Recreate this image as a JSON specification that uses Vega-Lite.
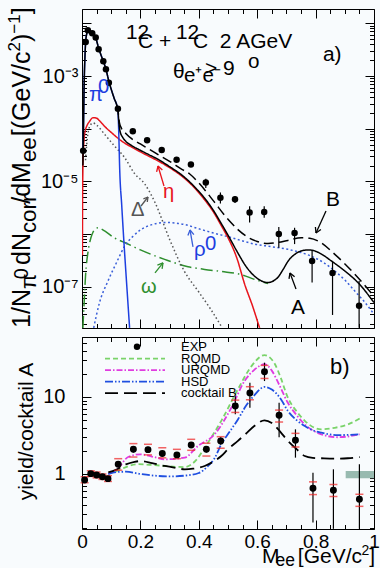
{
"$schema": "https://vega.github.io/schema/vega-lite/v6.json",
"background": "#f8fbfd",
"padding": {"left": 5, "top": 6, "right": 0, "bottom": 0},
"spacing": 9,
"bounds": "flush",
"resolve": {"scale": {"color": "independent", "size": "independent", "strokeDash": "independent"}},
"config": {
  "view": {"stroke": "#000", "strokeWidth": 1},
  "axis": {"domain": false, "grid": false, "tickColor": "#000", "tickWidth": 1, "labelColor": "#000", "labelFont": "Liberation Sans", "titleFont": "Liberation Sans", "titleColor": "#000", "titleFontWeight": "normal", "labelOverlap": false, "labelFlush": false},
  "text": {"font": "Liberation Sans"}
},
"datasets": {
  "topcurves": [
    {"c":"w","x":0.003,"y":1.66e-8},{"c":"w","x":0.007,"y":4.677e-8},{"c":"w","x":0.012,"y":1.585e-7},{"c":"w","x":0.021,"y":4.786e-7},{"c":"w","x":0.03,"y":8.318e-7},{"c":"w","x":0.038,"y":1.096e-6},{"c":"w","x":0.046,"y":1.259e-6},{"c":"w","x":0.055,"y":1.318e-6},{"c":"w","x":0.065,"y":1.259e-6},{"c":"w","x":0.08,"y":1.122e-6},{"c":"w","x":0.11,"y":8.511e-7},{"c":"w","x":0.146,"y":6.918e-7},{"c":"w","x":0.2,"y":5.012e-7},{"c":"w","x":0.283,"y":3.311e-7},{"c":"w","x":0.363,"y":2.399e-7},{"c":"w","x":0.42,"y":2.138e-7},{"c":"w","x":0.477,"y":1.95e-7},{"c":"w","x":0.546,"y":1.698e-7},{"c":"w","x":0.591,"y":1.38e-7},{"c":"w","x":0.637,"y":1.148e-7},
    {"c":"d","x":0.012,"y":2.512e-5},{"c":"d","x":0.02,"y":7.943e-5},{"c":"d","x":0.03,"y":1.202e-4},{"c":"d","x":0.038,"y":1.288e-4},{"c":"d","x":0.05,"y":1.175e-4},{"c":"d","x":0.078,"y":7.762e-5},{"c":"d","x":0.11,"y":4.786e-5},{"c":"d","x":0.146,"y":2.818e-5},{"c":"d","x":0.18,"y":1.413e-5},{"c":"d","x":0.215,"y":8.913e-6},{"c":"d","x":0.25,"y":3.981e-6},{"c":"d","x":0.3,"y":7.943e-7},{"c":"d","x":0.35,"y":1.995e-7},{"c":"d","x":0.4,"y":7.943e-8},{"c":"d","x":0.44,"y":3.802e-8},{"c":"d","x":0.48,"y":1.66e-8},
    {"c":"r","x":0.04,"y":1.66e-8},{"c":"r","x":0.06,"y":5.012e-8},{"c":"r","x":0.089,"y":1.288e-7},{"c":"r","x":0.12,"y":3.02e-7},{"c":"r","x":0.146,"y":5.888e-7},{"c":"r","x":0.175,"y":9.12e-7},{"c":"r","x":0.203,"y":1.23e-6},{"c":"r","x":0.24,"y":1.514e-6},{"c":"r","x":0.283,"y":1.66e-6},{"c":"r","x":0.32,"y":1.622e-6},{"c":"r","x":0.352,"y":1.514e-6},{"c":"r","x":0.4,"y":1.259e-6},{"c":"r","x":0.45,"y":1.047e-6},{"c":"r","x":0.5,"y":8.913e-7},{"c":"r","x":0.55,"y":7.413e-7},{"c":"r","x":0.591,"y":6.457e-7},{"c":"r","x":0.65,"y":5.754e-7},{"c":"r","x":0.705,"y":5.129e-7},{"c":"r","x":0.75,"y":4.467e-7},{"c":"r","x":0.785,"y":3.802e-7},{"c":"r","x":0.83,"y":2.818e-7},{"c":"r","x":0.865,"y":1.995e-7},{"c":"r","x":0.9,"y":1.349e-7},{"c":"r","x":0.934,"y":8.318e-8},{"c":"r","x":0.965,"y":5.37e-8},{"c":"r","x":1.0,"y":3.02e-8},
    {"c":"e","x":0.0015,"y":3.981e-7},{"c":"e","x":0.002,"y":5.012e-6},{"c":"e","x":0.003,"y":1.585e-5},{"c":"e","x":0.005,"y":3.981e-5},{"c":"e","x":0.008,"y":7.079e-5},{"c":"e","x":0.012,"y":9.55e-5},{"c":"e","x":0.018,"y":1.175e-4},{"c":"e","x":0.026,"y":1.38e-4},{"c":"e","x":0.038,"y":1.622e-4},{"c":"e","x":0.05,"y":1.585e-4},{"c":"e","x":0.06,"y":1.413e-4},{"c":"e","x":0.08,"y":1.072e-4},{"c":"e","x":0.1,"y":8.511e-5},{"c":"e","x":0.137,"y":5.754e-5},{"c":"e","x":0.17,"y":4.467e-5},{"c":"e","x":0.2,"y":3.631e-5},{"c":"e","x":0.228,"y":3.02e-5},{"c":"e","x":0.26,"y":2.455e-5},{"c":"e","x":0.3,"y":1.82e-5},{"c":"e","x":0.342,"y":1.259e-5},{"c":"e","x":0.363,"y":1.0e-5},{"c":"e","x":0.39,"y":7.079e-6},{"c":"e","x":0.42,"y":4.467e-6},{"c":"e","x":0.45,"y":2.63e-6},{"c":"e","x":0.477,"y":1.445e-6},{"c":"e","x":0.5,"y":8.511e-7},{"c":"e","x":0.53,"y":3.548e-7},{"c":"e","x":0.557,"y":1.122e-7},{"c":"e","x":0.585,"y":4.169e-8},{"c":"e","x":0.608,"y":1.66e-8},
    {"c":"p","x":0.004,"y":3.548e-5},{"c":"p","x":0.006,"y":2.512e-4},{"c":"p","x":0.008,"y":1.0e-3},{"c":"p","x":0.01,"y":2.239e-3},{"c":"p","x":0.012,"y":3.981e-3},{"c":"p","x":0.016,"y":6.31e-3},{"c":"p","x":0.02,"y":7.586e-3},{"c":"p","x":0.025,"y":7.586e-3},{"c":"p","x":0.03,"y":7.079e-3},{"c":"p","x":0.035,"y":6.457e-3},{"c":"p","x":0.04,"y":6.026e-3},{"c":"p","x":0.047,"y":5.248e-3},{"c":"p","x":0.057,"y":3.388e-3},{"c":"p","x":0.065,"y":2.512e-3},{"c":"p","x":0.073,"y":1.905e-3},{"c":"p","x":0.082,"y":1.349e-3},{"c":"p","x":0.092,"y":7.943e-4},{"c":"p","x":0.1,"y":5.623e-4},{"c":"p","x":0.11,"y":3.802e-4},{"c":"p","x":0.12,"y":2.692e-4},{"c":"p","x":0.123,"y":2.239e-4},{"c":"p","x":0.126,"y":7.943e-5},{"c":"p","x":0.129,"y":1.778e-5},{"c":"p","x":0.136,"y":3.548e-6},{"c":"p","x":0.143,"y":7.943e-7},{"c":"p","x":0.153,"y":1.122e-7},{"c":"p","x":0.163,"y":1.66e-8},
    {"c":"B","x":0.118,"y":2.818e-4},{"c":"B","x":0.123,"y":2.291e-4},{"c":"B","x":0.128,"y":1.318e-4},{"c":"B","x":0.135,"y":1.023e-4},{"c":"B","x":0.15,"y":8.128e-5},{"c":"B","x":0.17,"y":6.457e-5},{"c":"B","x":0.2,"y":5.129e-5},{"c":"B","x":0.251,"y":3.467e-5},{"c":"B","x":0.3,"y":2.399e-5},{"c":"B","x":0.342,"y":1.698e-5},{"c":"B","x":0.369,"y":1.38e-5},{"c":"B","x":0.4,"y":9.333e-6},{"c":"B","x":0.432,"y":5.754e-6},{"c":"B","x":0.457,"y":3.802e-6},{"c":"B","x":0.5,"y":1.905e-6},{"c":"B","x":0.535,"y":1.202e-6},{"c":"B","x":0.568,"y":8.71e-7},{"c":"B","x":0.6,"y":7.244e-7},{"c":"B","x":0.637,"y":6.607e-7},{"c":"B","x":0.67,"y":6.918e-7},{"c":"B","x":0.705,"y":7.586e-7},{"c":"B","x":0.751,"y":8.511e-7},{"c":"B","x":0.78,"y":8.318e-7},{"c":"B","x":0.808,"y":7.413e-7},{"c":"B","x":0.865,"y":4.169e-7},{"c":"B","x":0.934,"y":1.738e-7},{"c":"B","x":1.0,"y":6.607e-8},
    {"c":"A","x":0.003,"y":1.995e-5},{"c":"A","x":0.004,"y":3.548e-5},{"c":"A","x":0.006,"y":2.512e-4},{"c":"A","x":0.008,"y":1.0e-3},{"c":"A","x":0.01,"y":2.239e-3},{"c":"A","x":0.012,"y":3.981e-3},{"c":"A","x":0.016,"y":6.31e-3},{"c":"A","x":0.02,"y":7.586e-3},{"c":"A","x":0.025,"y":7.586e-3},{"c":"A","x":0.03,"y":7.079e-3},{"c":"A","x":0.035,"y":6.457e-3},{"c":"A","x":0.04,"y":6.026e-3},{"c":"A","x":0.047,"y":5.248e-3},{"c":"A","x":0.057,"y":3.388e-3},{"c":"A","x":0.065,"y":2.512e-3},{"c":"A","x":0.073,"y":1.905e-3},{"c":"A","x":0.082,"y":1.349e-3},{"c":"A","x":0.092,"y":7.943e-4},{"c":"A","x":0.1,"y":5.623e-4},{"c":"A","x":0.11,"y":3.802e-4},{"c":"A","x":0.12,"y":2.692e-4},{"c":"A","x":0.123,"y":2.291e-4},{"c":"A","x":0.126,"y":1.38e-4},{"c":"A","x":0.13,"y":9.12e-5},{"c":"A","x":0.14,"y":6.761e-5},{"c":"A","x":0.15,"y":5.754e-5},{"c":"A","x":0.17,"y":4.786e-5},{"c":"A","x":0.2,"y":3.89e-5},{"c":"A","x":0.228,"y":3.236e-5},{"c":"A","x":0.26,"y":2.63e-5},{"c":"A","x":0.3,"y":1.905e-5},{"c":"A","x":0.342,"y":1.318e-5},{"c":"A","x":0.363,"y":1.047e-5},{"c":"A","x":0.39,"y":7.413e-6},{"c":"A","x":0.42,"y":4.786e-6},{"c":"A","x":0.45,"y":2.818e-6},{"c":"A","x":0.477,"y":1.585e-6},{"c":"A","x":0.5,"y":9.55e-7},{"c":"A","x":0.534,"y":4.365e-7},{"c":"A","x":0.56,"y":2.512e-7},{"c":"A","x":0.591,"y":1.585e-7},{"c":"A","x":0.615,"y":1.288e-7},{"c":"A","x":0.637,"y":1.202e-7},{"c":"A","x":0.655,"y":1.288e-7},{"c":"A","x":0.671,"y":1.514e-7},{"c":"A","x":0.69,"y":2.188e-7},{"c":"A","x":0.705,"y":3.02e-7},{"c":"A","x":0.73,"y":4.169e-7},{"c":"A","x":0.751,"y":4.786e-7},{"c":"A","x":0.775,"y":5.012e-7},{"c":"A","x":0.791,"y":4.898e-7},{"c":"A","x":0.82,"y":4.169e-7},{"c":"A","x":0.854,"y":3.09e-7},{"c":"A","x":0.9,"y":1.995e-7},{"c":"A","x":0.945,"y":1.202e-7},{"c":"A","x":1.0,"y":5.012e-8}
  ],
  "toppts": [
    {"x":0.004,"y":3.802e-5},{"x":0.0127,"y":4.416e-3},{"x":0.02,"y":7.413e-3},{"x":0.035,"y":6.457e-3},{"x":0.047,"y":5.37e-3},{"x":0.057,"y":3.236e-3},{"x":0.073,"y":1.905e-3},{"x":0.082,"y":1.349e-3},{"x":0.092,"y":7.413e-4},{"x":0.123,"y":2.399e-4},{"x":0.174,"y":8.913e-5},{"x":0.223,"y":6.026e-5},{"x":0.273,"y":3.936e-5},{"x":0.324,"y":2.57e-5},{"x":0.373,"y":2.089e-5},{"x":0.424,"y":9.55e-6},{"x":0.474,"y":4.898e-6},{"x":0.524,"y":4.571e-6},{"x":0.574,"y":2.57e-6},{"x":0.624,"y":2.63e-6},{"x":0.674,"y":1.0e-6},{"x":0.728,"y":1.047e-6},{"x":0.788,"y":3.09e-7},{"x":0.858,"y":1.82e-7},{"x":0.949,"y":4.365e-8}
  ],
  "toperr": [
    {"x":0.373,"lo":1.905e-5,"hi":2.291e-5},{"x":0.424,"lo":7.499e-6,"hi":1.122e-5},{"x":0.474,"lo":3.802e-6,"hi":6.166e-6},{"x":0.524,"lo":3.89e-6,"hi":5.248e-6},{"x":0.574,"lo":1.66e-6,"hi":3.388e-6},{"x":0.624,"lo":2.042e-6,"hi":3.388e-6},{"x":0.674,"lo":5.495e-7,"hi":1.365e-6},{"x":0.728,"lo":6.457e-7,"hi":1.318e-6},{"x":0.788,"lo":1.202e-7,"hi":4.786e-7},{"x":0.858,"lo":2.917e-8,"hi":3.09e-7},{"x":0.949,"lo":1.66e-8,"hi":1.288e-7}
  ],
  "arrows": [
    {"a":"eta","x":0.2808,"y":8.18e-6,"x2":0.2603,"y2":1.96e-5},{"a":"eta","x":0.2603,"y":1.96e-5,"x2":0.2555,"y2":1.52e-5},{"a":"eta","x":0.2603,"y":1.96e-5,"x2":0.2753,"y2":1.64e-5},
    {"a":"delta","x":0.2021,"y":3.41e-6,"x2":0.226,"y2":5.06e-6},{"a":"delta","x":0.226,"y":5.06e-6,"x2":0.2103,"y2":4.66e-6},{"a":"delta","x":0.226,"y":5.06e-6,"x2":0.2236,"y2":4.06e-6},
    {"a":"rho","x":0.3801,"y":5.69e-7,"x2":0.3699,"y2":1.196e-6},{"a":"rho","x":0.3699,"y":1.196e-6,"x2":0.3627,"y2":9.37e-7},{"a":"rho","x":0.3699,"y":1.196e-6,"x2":0.3832,"y2":9.78e-7},
    {"a":"omega","x":0.25,"y":1.83e-7,"x2":0.2774,"y2":2.83e-7},{"a":"omega","x":0.2774,"y":2.83e-7,"x2":0.2582,"y2":2.57e-7},{"a":"omega","x":0.2774,"y":2.83e-7,"x2":0.2743,"y2":2.19e-7},
    {"a":"A","x":0.7329,"y":9.08e-8,"x2":0.7123,"y2":1.83e-7},{"a":"A","x":0.7123,"y":1.83e-7,"x2":0.7089,"y2":1.41e-7},{"a":"A","x":0.7123,"y":1.83e-7,"x2":0.7281,"y2":1.55e-7},
    {"a":"B","x":0.8356,"y":2.74e-6,"x2":0.8014,"y2":1.05e-6},{"a":"B","x":0.8014,"y":1.05e-6,"x2":0.8182,"y2":1.22e-6},{"a":"B","x":0.8014,"y":1.05e-6,"x2":0.7993,"y2":1.36e-6}
  ],
  "ann": [
    {"t":"12","x":0.1507,"y":5.035e-3,"r":"k14"},
    {"t":"C +","x":0.1918,"y":3.398e-3,"r":"k21"},
    {"t":"12","x":0.3219,"y":5.035e-3,"r":"k14"},
    {"t":"C\u00a0\u00a02 AGeV","x":0.3801,"y":3.398e-3,"r":"k21"},
    {"t":"a)","x":0.825,"y":1.928e-3,"r":"k20"},
    {"t":"θ","x":0.3116,"y":9.162e-4,"r":"k20"},
    {"t":"e⁺e⁻","x":0.3493,"y":7.693e-4,"r":"k10"},
    {"t":"> 9","x":0.4212,"y":1.045e-3,"r":"k21"},
    {"t":"o","x":0.5685,"y":1.419e-3,"r":"k13"},
    {"t":"π","x":0.024,"y":3.354e-4,"r":"b20"},
    {"t":"0","x":0.0548,"y":4.757e-4,"r":"b13"},
    {"t":"η","x":0.2774,"y":4.842e-6,"r":"r22"},
    {"t":"Δ","x":0.1678,"y":2.205e-6,"r":"g18"},
    {"t":"ρ","x":0.3836,"y":3.841e-7,"r":"b20"},
    {"t":"0","x":0.4212,"y":4.992e-7,"r":"b13"},
    {"t":"ω","x":0.2021,"y":7.627e-8,"r":"w22"},
    {"t":"A","x":0.7158,"y":3.048e-8,"r":"k20"},
    {"t":"B","x":0.8356,"y":3.414e-6,"r":"k20"}
  ],
  "ytitle": [
    {"t":"1/N","x":-0.178,"y":1.652e-8,"r":"T"},
    {"t":"π","x":-0.1575,"y":9.04e-8,"r":"Ts"},
    {"t":"0","x":-0.185,"y":1.394e-7,"r":"Tss"},
    {"t":"dN","x":-0.178,"y":2.593e-7,"r":"T"},
    {"t":"corr","x":-0.1575,"y":1.045e-6,"r":"Ts"},
    {"t":"/dM","x":-0.178,"y":3.758e-6,"r":"T"},
    {"t":"ee","x":-0.1575,"y":2.324e-5,"r":"Ts"},
    {"t":"[(GeV/c","x":-0.178,"y":7.205e-5,"r":"T"},
    {"t":"2","x":-0.2123,"y":2.916e-3,"r":"Tsup"},
    {"t":")","x":-0.178,"y":4.418e-3,"r":"T"},
    {"t":"−1","x":-0.2123,"y":6.35e-3,"r":"Tsup"},
    {"t":"]","x":-0.178,"y":1.482e-2,"r":"T"}
  ],
  "models": [
    {"m":"RQMD","x":0.09,"y":1.0},{"m":"RQMD","x":0.12,"y":1.1},{"m":"RQMD","x":0.19,"y":1.34},{"m":"RQMD","x":0.25,"y":1.3},{"m":"RQMD","x":0.35,"y":1.23},{"m":"RQMD","x":0.39,"y":1.5},{"m":"RQMD","x":0.42,"y":2.19},{"m":"RQMD","x":0.477,"y":4.9},{"m":"RQMD","x":0.534,"y":12.6},{"m":"RQMD","x":0.58,"y":25},{"m":"RQMD","x":0.625,"y":35},{"m":"RQMD","x":0.66,"y":27},{"m":"RQMD","x":0.68,"y":18},{"m":"RQMD","x":0.705,"y":9.8},{"m":"RQMD","x":0.735,"y":6.5},{"m":"RQMD","x":0.763,"y":4.9},{"m":"RQMD","x":0.82,"y":3.8},{"m":"RQMD","x":0.865,"y":3.98},{"m":"RQMD","x":0.911,"y":4.4},{"m":"RQMD","x":0.951,"y":5.25},
    {"m":"URQMD","x":0.09,"y":1.0},{"m":"URQMD","x":0.12,"y":1.15},{"m":"URQMD","x":0.158,"y":1.66},{"m":"URQMD","x":0.2,"y":1.8},{"m":"URQMD","x":0.25,"y":1.65},{"m":"URQMD","x":0.283,"y":1.55},{"m":"URQMD","x":0.352,"y":1.63},{"m":"URQMD","x":0.397,"y":2.31},{"m":"URQMD","x":0.454,"y":3.27},{"m":"URQMD","x":0.511,"y":7.2},{"m":"URQMD","x":0.557,"y":16.2},{"m":"URQMD","x":0.59,"y":22.5},{"m":"URQMD","x":0.625,"y":26.6},{"m":"URQMD","x":0.65,"y":22},{"m":"URQMD","x":0.675,"y":14.5},{"m":"URQMD","x":0.705,"y":8.4},{"m":"URQMD","x":0.735,"y":5.8},{"m":"URQMD","x":0.763,"y":4.4},{"m":"URQMD","x":0.82,"y":3.27},{"m":"URQMD","x":0.877,"y":3.0},{"m":"URQMD","x":0.951,"y":3.27},
    {"m":"HSD","x":0.09,"y":1.0},{"m":"HSD","x":0.12,"y":1.06},{"m":"HSD","x":0.15,"y":1.07},{"m":"HSD","x":0.2,"y":1.0},{"m":"HSD","x":0.25,"y":0.95},{"m":"HSD","x":0.306,"y":0.93},{"m":"HSD","x":0.35,"y":0.95},{"m":"HSD","x":0.4,"y":1.03},{"m":"HSD","x":0.43,"y":1.25},{"m":"HSD","x":0.454,"y":1.6},{"m":"HSD","x":0.477,"y":2.43},{"m":"HSD","x":0.5,"y":3.3},{"m":"HSD","x":0.534,"y":5.1},{"m":"HSD","x":0.56,"y":7.5},{"m":"HSD","x":0.59,"y":10.5},{"m":"HSD","x":0.625,"y":13.5},{"m":"HSD","x":0.65,"y":12.5},{"m":"HSD","x":0.68,"y":9.5},{"m":"HSD","x":0.705,"y":6.6},{"m":"HSD","x":0.735,"y":5.0},{"m":"HSD","x":0.763,"y":4.2},{"m":"HSD","x":0.79,"y":3.7},{"m":"HSD","x":0.82,"y":3.44},{"m":"HSD","x":0.877,"y":3.2},{"m":"HSD","x":0.951,"y":3.27},
    {"m":"cocktail B","x":0.09,"y":1.05},{"m":"cocktail B","x":0.12,"y":1.15},{"m":"cocktail B","x":0.15,"y":1.33},{"m":"cocktail B","x":0.18,"y":1.44},{"m":"cocktail B","x":0.2,"y":1.47},{"m":"cocktail B","x":0.24,"y":1.38},{"m":"cocktail B","x":0.283,"y":1.27},{"m":"cocktail B","x":0.32,"y":1.2},{"m":"cocktail B","x":0.352,"y":1.15},{"m":"cocktail B","x":0.38,"y":1.17},{"m":"cocktail B","x":0.42,"y":1.27},{"m":"cocktail B","x":0.45,"y":1.45},{"m":"cocktail B","x":0.477,"y":1.71},{"m":"cocktail B","x":0.5,"y":2.1},{"m":"cocktail B","x":0.534,"y":2.69},{"m":"cocktail B","x":0.56,"y":3.3},{"m":"cocktail B","x":0.59,"y":4.2},{"m":"cocktail B","x":0.625,"y":4.98},{"m":"cocktail B","x":0.65,"y":4.6},{"m":"cocktail B","x":0.68,"y":3.5},{"m":"cocktail B","x":0.705,"y":2.69},{"m":"cocktail B","x":0.735,"y":2.1},{"m":"cocktail B","x":0.763,"y":1.71},{"m":"cocktail B","x":0.79,"y":1.62},{"m":"cocktail B","x":0.82,"y":1.6},{"m":"cocktail B","x":0.865,"y":1.58},{"m":"cocktail B","x":0.91,"y":1.6},{"m":"cocktail B","x":0.951,"y":1.66}
  ],
  "legl": [
    {"m":"RQMD","x":0.0788,"y":31.5},{"m":"RQMD","x":0.2842,"y":31.5},
    {"m":"URQMD","x":0.0788,"y":22.3},{"m":"URQMD","x":0.2842,"y":22.3},
    {"m":"HSD","x":0.0788,"y":15.8},{"m":"HSD","x":0.2842,"y":15.8},
    {"m":"cocktail B","x":0.0788,"y":11.2},{"m":"cocktail B","x":0.2842,"y":11.2}
  ],
  "botpts": [
    {"x":0.009,"y":0.836,"slo":0.81,"shi":0.86,"ylo":0.77,"yhi":0.92},
    {"x":0.03,"y":1.01,"slo":0.98,"shi":1.04,"ylo":0.93,"yhi":1.1},
    {"x":0.05,"y":0.97,"slo":0.94,"shi":1.0,"ylo":0.89,"yhi":1.06},
    {"x":0.07,"y":0.92,"slo":0.89,"shi":0.95,"ylo":0.85,"yhi":1.0},
    {"x":0.089,"y":0.87,"slo":0.84,"shi":0.9,"ylo":0.8,"yhi":0.95},
    {"x":0.124,"y":1.34,"slo":1.28,"shi":1.4,"ylo":1.12,"yhi":1.58},
    {"x":0.176,"y":2.09,"slo":1.9,"shi":2.3,"ylo":1.66,"yhi":2.48},
    {"x":0.226,"y":2.07,"slo":1.9,"shi":2.25,"ylo":1.77,"yhi":2.43},
    {"x":0.275,"y":1.85,"slo":1.7,"shi":2.0,"ylo":1.62,"yhi":2.19},
    {"x":0.325,"y":1.77,"slo":1.63,"shi":1.92,"ylo":1.58,"yhi":2.09},
    {"x":0.374,"y":2.38,"slo":2.2,"shi":2.6,"ylo":2.03,"yhi":2.82},
    {"x":0.426,"y":2.09,"slo":1.9,"shi":2.3,"ylo":1.71,"yhi":2.51},
    {"x":0.475,"y":2.68,"slo":2.4,"shi":3.0,"ylo":2.16,"yhi":3.05},
    {"x":0.525,"y":7.64,"slo":5.96,"shi":10.2,"ylo":6.3,"yhi":9.1},
    {"x":0.575,"y":11.3,"slo":7.26,"shi":15.3,"ylo":9.2,"yhi":13.6},
    {"x":0.625,"y":21.3,"slo":16.1,"shi":27.9,"ylo":17.4,"yhi":25.7},
    {"x":0.675,"y":5.78,"slo":3.0,"shi":8.43,"ylo":4.73,"yhi":6.76},
    {"x":0.731,"y":2.74,"slo":1.63,"shi":3.8,"ylo":2.24,"yhi":3.37},
    {"x":0.791,"y":0.652,"slo":0.234,"shi":1.04,"ylo":0.54,"yhi":0.79},
    {"x":0.861,"y":0.615,"slo":0.194,"shi":1.15,"ylo":0.51,"yhi":0.73},
    {"x":0.95,"y":0.47,"slo":0.194,"shi":1.34,"ylo":0.38,"yhi":0.545}
  ],
  "legt": [
    {"t":"EXP","x":0.339,"y":45.0},{"t":"RQMD","x":0.339,"y":31.5},{"t":"URQMD","x":0.339,"y":22.3},{"t":"HSD","x":0.339,"y":15.8},{"t":"cocktail B","x":0.339,"y":11.2}
  ],
  "xtitle": [
    {"t":"M","x":0.676,"y":0.0692,"r":"X"},{"t":"ee","x":0.7295,"y":0.0639,"r":"Xs"},{"t":"[GeV/c","x":0.9589,"y":0.0692,"r":"X"},{"t":"2","x":0.9836,"y":0.0878,"r":"Xsup"},{"t":"]","x":1.0034,"y":0.0692,"r":"X"}
  ]
},
"vconcat": [
  {
    "width": 292, "height": 319,
    "resolve": {"axis": {"x": "independent", "y": "independent"}, "scale": {"color": "independent", "size": "independent", "strokeDash": "independent"}},
    "layer": [
      {
        "data": {"name": "topcurves"},
        "mark": {"type": "line", "strokeWidth": 1.5, "clip": true, "interpolate": "monotone"},
        "encoding": {
          "x": {"field": "x", "type": "quantitative", "scale": {"domain": [0, 1], "nice": false, "zero": false}, "axis": null},
          "y": {"field": "y", "type": "quantitative", "scale": {"type": "log", "domain": [1.65e-8, 0.0187], "nice": false}, "axis": null},
          "color": {"field": "c", "type": "nominal", "scale": {"domain": ["w","d","r","e","p","B","A"], "range": ["#2f8f2f","#555555","#3a5fd9","#e8141c","#1d3fe0","#000000","#000000"]}, "legend": null},
          "strokeDash": {"field": "c", "type": "nominal", "scale": {"domain": ["w","d","r","e","p","B","A"], "range": [[12,4,1.5,4],[1.5,2.5],[2,2.5],[1,0],[1,0],[10,5],[1,0]]}, "legend": null}
        }
      },
      {
        "data": {"name": "toperr"},
        "mark": {"type": "rule", "color": "#000", "strokeWidth": 1.2, "clip": true},
        "encoding": {
          "x": {"field": "x", "type": "quantitative", "axis": {"orient": "bottom", "title": null, "labels": false, "values": [0,0.05,0.1,0.15,0.2,0.25,0.3,0.35,0.4,0.45,0.5,0.55,0.6,0.65,0.7,0.75,0.8,0.85,0.9,0.95,1], "tickSize": {"condition": {"test": "abs(datum.value*5-round(datum.value*5))<0.001", "value": -9}, "value": -4.5}}},
          "y": {"field": "lo", "type": "quantitative", "axis": {"orient": "left", "title": null, "values": [2e-8,3e-8,4e-8,5e-8,6e-8,7e-8,8e-8,9e-8,1e-7,2e-7,3e-7,4e-7,5e-7,6e-7,7e-7,8e-7,9e-7,1e-6,2e-6,3e-6,4e-6,5e-6,6e-6,7e-6,8e-6,9e-6,1e-5,2e-5,3e-5,4e-5,5e-5,6e-5,7e-5,8e-5,9e-5,1e-4,2e-4,3e-4,4e-4,5e-4,6e-4,7e-4,8e-4,9e-4,0.001,0.002,0.003,0.004,0.005,0.006,0.007,0.008,0.009,0.01], "labelExpr": "datum.value === 0.001 ? '10⁻³' : datum.value === 0.00001 ? '10⁻⁵' : datum.value === 1e-7 ? '10⁻⁷' : ''", "labelFontSize": 20, "labelPadding": 13, "tickSize": {"condition": {"test": "abs(log(datum.value)/LN10-round(log(datum.value)/LN10))<0.001", "value": -9}, "value": -4.5}}},
          "y2": {"field": "hi"}
        }
      },
      {
        "data": {"name": "toppts"},
        "mark": {"type": "point", "filled": true, "color": "#000", "size": 42, "opacity": 1},
        "encoding": {
          "x": {"field": "x", "type": "quantitative", "axis": {"orient": "top", "title": null, "labels": false, "values": [0,0.05,0.1,0.15,0.2,0.25,0.3,0.35,0.4,0.45,0.5,0.55,0.6,0.65,0.7,0.75,0.8,0.85,0.9,0.95,1], "tickSize": {"condition": {"test": "abs(datum.value*5-round(datum.value*5))<0.001", "value": -9}, "value": -4.5}}},
          "y": {"field": "y", "type": "quantitative", "axis": {"orient": "right", "title": null, "labels": false, "values": [2e-8,3e-8,4e-8,5e-8,6e-8,7e-8,8e-8,9e-8,1e-7,2e-7,3e-7,4e-7,5e-7,6e-7,7e-7,8e-7,9e-7,1e-6,2e-6,3e-6,4e-6,5e-6,6e-6,7e-6,8e-6,9e-6,1e-5,2e-5,3e-5,4e-5,5e-5,6e-5,7e-5,8e-5,9e-5,1e-4,2e-4,3e-4,4e-4,5e-4,6e-4,7e-4,8e-4,9e-4,0.001,0.002,0.003,0.004,0.005,0.006,0.007,0.008,0.009,0.01], "tickSize": {"condition": {"test": "abs(log(datum.value)/LN10-round(log(datum.value)/LN10))<0.001", "value": -9}, "value": -4.5}}}
        }
      },
      {
        "data": {"name": "arrows"},
        "mark": {"type": "rule", "strokeWidth": 1.3},
        "encoding": {
          "x": {"field": "x", "type": "quantitative", "axis": null},
          "y": {"field": "y", "type": "quantitative", "axis": null},
          "x2": {"field": "x2"},
          "y2": {"field": "y2"},
          "color": {"field": "a", "type": "nominal", "scale": {"domain": ["eta","delta","rho","omega","A","B"], "range": ["#e8141c","#555555","#3a5fd9","#2f8f2f","#000000","#000000"]}, "legend": null}
        }
      },
      {
        "data": {"name": "ann"},
        "mark": {"type": "text", "align": "left", "baseline": "alphabetic", "font": "Liberation Sans"},
        "encoding": {
          "x": {"field": "x", "type": "quantitative", "axis": null},
          "y": {"field": "y", "type": "quantitative", "axis": null},
          "text": {"field": "t"},
          "size": {"field": "r", "type": "nominal", "scale": {"domain": ["k21","k20","k14","k13","k10","b20","b13","r22","g18","w22"], "range": [21,20,14,13,10,20,13,22,18,22]}, "legend": null},
          "color": {"field": "r", "type": "nominal", "scale": {"domain": ["k21","k20","k14","k13","k10","b20","b13","r22","g18","w22"], "range": ["#000000","#000000","#000000","#000000","#000000","#1d3fe0","#1d3fe0","#e8141c","#555555","#2f8f2f"]}, "legend": null}
        }
      },
      {
        "data": {"name": "ytitle"},
        "mark": {"type": "text", "align": "left", "baseline": "alphabetic", "angle": 270, "color": "#000", "font": "Liberation Sans"},
        "encoding": {
          "x": {"field": "x", "type": "quantitative", "axis": null},
          "y": {"field": "y", "type": "quantitative", "axis": null},
          "text": {"field": "t"},
          "size": {"field": "r", "type": "nominal", "scale": {"domain": ["T","Ts","Tss","Tsup"], "range": [25,17,13,14]}, "legend": null}
        }
      }
    ]
  },
  {
    "width": 292, "height": 192,
    "resolve": {"axis": {"x": "independent", "y": "independent"}, "scale": {"color": "independent", "size": "independent", "strokeDash": "independent"}},
    "layer": [
      {
        "data": {"values": [{"x": 0.903, "x2": 1.0, "y": 0.88, "y2": 1.094}]},
        "mark": {"type": "rect", "color": "#98bab0", "clip": true},
        "encoding": {
          "x": {"field": "x", "type": "quantitative", "scale": {"domain": [0, 1], "nice": false, "zero": false}, "axis": null},
          "x2": {"field": "x2"},
          "y": {"field": "y", "type": "quantitative", "scale": {"type": "log", "domain": [0.193, 60.1], "nice": false}, "axis": null},
          "y2": {"field": "y2"}
        }
      },
      {
        "mark": {"type": "rule", "color": "#808080", "strokeWidth": 1.5},
        "encoding": {"y": {"datum": 1, "type": "quantitative", "axis": null}}
      },
      {
        "data": {"name": "models"},
        "mark": {"type": "line", "strokeWidth": 1.8, "clip": true, "interpolate": "monotone"},
        "encoding": {
          "x": {"field": "x", "type": "quantitative", "axis": null},
          "y": {"field": "y", "type": "quantitative", "axis": null},
          "color": {"field": "m", "type": "nominal", "scale": {"domain": ["RQMD","URQMD","HSD","cocktail B"], "range": ["#7ad36a","#e03ce0","#1f4fe0","#000000"]}, "legend": null},
          "strokeDash": {"field": "m", "type": "nominal", "scale": {"domain": ["RQMD","URQMD","HSD","cocktail B"], "range": [[5,3],[6,2,1.5,2],[8,2,1.5,2,1.5,2],[13,6]]}, "legend": null}
        }
      },
      {
        "data": {"name": "legl"},
        "mark": {"type": "line", "strokeWidth": 1.8},
        "encoding": {
          "x": {"field": "x", "type": "quantitative", "axis": null},
          "y": {"field": "y", "type": "quantitative", "axis": null},
          "color": {"field": "m", "type": "nominal", "scale": {"domain": ["RQMD","URQMD","HSD","cocktail B"], "range": ["#7ad36a","#e03ce0","#1f4fe0","#000000"]}, "legend": null},
          "strokeDash": {"field": "m", "type": "nominal", "scale": {"domain": ["RQMD","URQMD","HSD","cocktail B"], "range": [[5,3],[6,2,1.5,2],[8,2,1.5,2,1.5,2],[13,6]]}, "legend": null}
        }
      },
      {
        "data": {"name": "botpts"},
        "mark": {"type": "rule", "color": "#000", "strokeWidth": 1.2, "clip": true},
        "encoding": {
          "x": {"field": "x", "type": "quantitative", "axis": {"orient": "bottom", "title": null, "values": [0,0.05,0.1,0.15,0.2,0.25,0.3,0.35,0.4,0.45,0.5,0.55,0.6,0.65,0.7,0.75,0.8,0.85,0.9,0.95,1], "labelExpr": "abs(datum.value*5-round(datum.value*5))<0.001 ? format(datum.value, '~g') : ''", "labelFontSize": 19, "labelPadding": 12, "tickSize": {"condition": {"test": "abs(datum.value*5-round(datum.value*5))<0.001", "value": -9}, "value": -4.5}}},
          "y": {"field": "slo", "type": "quantitative", "axis": {"orient": "left", "title": "yield/cocktail A", "titleFontSize": 21, "titleAngle": 270, "titleAlign": "center", "titleBaseline": "alphabetic", "titleX": -50, "titleY": 94, "values": [0.2,0.3,0.4,0.5,0.6,0.7,0.8,0.9,1,2,3,4,5,6,7,8,9,10,20,30,40,50,60], "labelExpr": "datum.value === 1 ? '1' : datum.value === 10 ? '10' : ''", "labelFontSize": 20, "labelPadding": 26, "tickSize": {"condition": {"test": "abs(log(datum.value)/LN10-round(log(datum.value)/LN10))<0.001", "value": -9}, "value": -4.5}}},
          "y2": {"field": "shi"}
        }
      },
      {
        "data": {"name": "botpts"},
        "mark": {"type": "tick", "orient": "horizontal", "color": "#ee2222", "size": 8, "thickness": 1.5},
        "encoding": {
          "x": {"field": "x", "type": "quantitative", "axis": null},
          "y": {"field": "ylo", "type": "quantitative", "axis": null}
        }
      },
      {
        "data": {"name": "botpts"},
        "mark": {"type": "tick", "orient": "horizontal", "color": "#ee2222", "size": 8, "thickness": 1.5},
        "encoding": {
          "x": {"field": "x", "type": "quantitative", "axis": null},
          "y": {"field": "yhi", "type": "quantitative", "axis": null}
        }
      },
      {
        "data": {"name": "botpts"},
        "mark": {"type": "point", "filled": true, "color": "#000", "size": 48, "opacity": 1},
        "encoding": {
          "x": {"field": "x", "type": "quantitative", "axis": {"orient": "top", "title": null, "labels": false, "values": [0,0.05,0.1,0.15,0.2,0.25,0.3,0.35,0.4,0.45,0.5,0.55,0.6,0.65,0.7,0.75,0.8,0.85,0.9,0.95,1], "tickSize": {"condition": {"test": "abs(datum.value*5-round(datum.value*5))<0.001", "value": -9}, "value": -4.5}}},
          "y": {"field": "y", "type": "quantitative", "axis": {"orient": "right", "title": null, "labels": false, "values": [0.2,0.3,0.4,0.5,0.6,0.7,0.8,0.9,1,2,3,4,5,6,7,8,9,10,20,30,40,50,60], "tickSize": {"condition": {"test": "abs(log(datum.value)/LN10-round(log(datum.value)/LN10))<0.001", "value": -9}, "value": -4.5}}}
        }
      },
      {
        "data": {"values": [{"x": 0.1884, "y": 45.0}]},
        "mark": {"type": "point", "filled": true, "color": "#000", "size": 42, "opacity": 1},
        "encoding": {
          "x": {"field": "x", "type": "quantitative", "axis": null},
          "y": {"field": "y", "type": "quantitative", "axis": null}
        }
      },
      {
        "data": {"name": "legt"},
        "mark": {"type": "text", "align": "left", "baseline": "middle", "fontSize": 13, "color": "#000", "font": "Liberation Sans"},
        "encoding": {
          "x": {"field": "x", "type": "quantitative", "axis": null},
          "y": {"field": "y", "type": "quantitative", "axis": null},
          "text": {"field": "t"}
        }
      },
      {
        "data": {"values": [{"t": "b)", "x": 0.849, "y": 19.9}]},
        "mark": {"type": "text", "align": "left", "baseline": "alphabetic", "fontSize": 22, "color": "#000", "font": "Liberation Sans"},
        "encoding": {
          "x": {"field": "x", "type": "quantitative", "axis": null},
          "y": {"field": "y", "type": "quantitative", "axis": null},
          "text": {"field": "t"}
        }
      },
      {
        "data": {"name": "xtitle"},
        "mark": {"type": "text", "align": "right", "baseline": "alphabetic", "color": "#000", "font": "Liberation Sans"},
        "encoding": {
          "x": {"field": "x", "type": "quantitative", "axis": null},
          "y": {"field": "y", "type": "quantitative", "axis": null},
          "text": {"field": "t"},
          "size": {"field": "r", "type": "nominal", "scale": {"domain": ["X","Xs","Xsup"], "range": [21,14,13]}, "legend": null}
        }
      }
    ]
  }
]
}
